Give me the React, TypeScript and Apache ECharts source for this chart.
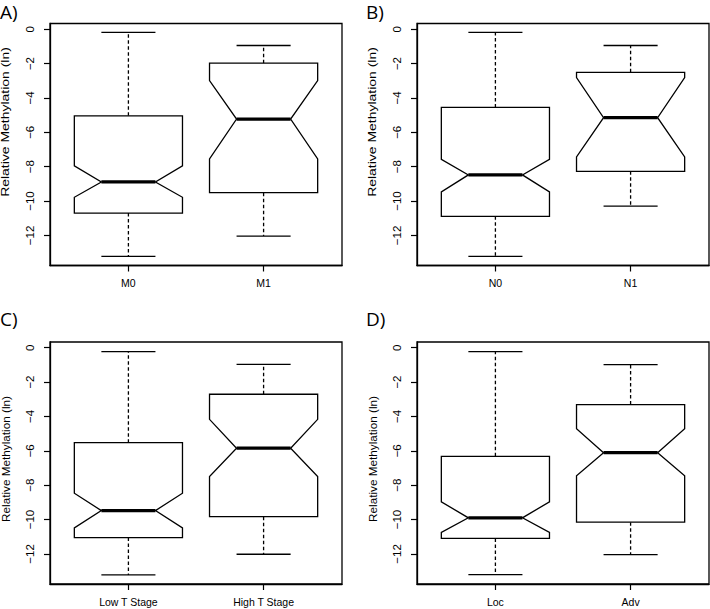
import React, { useEffect, useRef } from "react";
import * as echarts from "echarts";

// Panel letters
const panelLetters = ["A)", "B)", "C)", "D)"];

// Categories per panel
const catsA = ["M0", "M1"];
const catsB = ["N0", "N1"];
const catsC = ["Low T Stage", "High T Stage"];
const catsD = ["Loc", "Adv"];

// Box stats: [lower whisker, Q1, lower notch, median, upper notch, Q3, upper whisker]
const statsA_M0 = [-13.22, -10.7, -9.78, -8.89, -7.95, -5.04, -0.19];
const statsA_M1 = [-12.04, -9.51, -7.55, -5.23, -2.99, -1.98, -0.95];
const statsB_N0 = [-13.22, -10.89, -9.47, -8.48, -7.57, -4.55, -0.19];
const statsB_N1 = [-10.29, -8.27, -7.43, -5.15, -2.82, -2.51, -0.95];
const statsC_Low = [-13.22, -11.05, -10.49, -9.48, -8.47, -5.53, -0.23];
const statsC_High = [-12.02, -9.83, -7.5, -5.85, -4.17, -2.71, -0.97];
const statsD_Loc = [-13.2, -11.1, -10.75, -9.9, -8.97, -6.32, -0.23];
const statsD_Adv = [-12.04, -10.15, -7.45, -6.11, -4.71, -3.31, -0.99];

// Y-axis ticks
const yTicks = [0, -2, -4, -6, -8, -10, -12];
const yTitle = "Relative Methylation (ln)";

const panels = [
  { cats: catsA, stats: [statsA_M0, statsA_M1] },
  { cats: catsB, stats: [statsB_N0, statsB_N1] },
  { cats: catsC, stats: [statsC_Low, statsC_High] },
  { cats: catsD, stats: [statsD_Loc, statsD_Adv] },
];

const gridLefts = [50, 417, 50, 417];
const gridTops = [23.5, 23.5, 342, 342];
const GW = 292;
const GH = 242;

export default function App() {
  const ref = useRef<HTMLDivElement>(null);
  useEffect(() => {
    if (!ref.current) return;
    const chart = echarts.init(ref.current, null, { renderer: "svg" });
    const font = "'Liberation Sans', Arial, sans-serif";

    const grids = panels.map((_, i) => ({
      left: gridLefts[i],
      top: gridTops[i],
      width: GW,
      height: GH,
      show: true,
      borderColor: "#000",
      borderWidth: 1.3,
      backgroundColor: "transparent",
      containLabel: false,
      outerBoundsMode: "none",
    }));

    const xAxes = panels.map((p, i) => ({
      type: "value",
      gridIndex: i,
      position: "bottom",
      min: 0.42,
      max: 2.58,
      axisLine: { show: true, onZero: false, lineStyle: { color: "#000", width: 1.3 } },
      axisTick: {
        show: true,
        customValues: [1, 2],
        length: 6,
        lineStyle: { color: "#000", width: 1.2 },
      },
      axisLabel: {
        customValues: [1, 2],
        formatter: (v: number) => p.cats[Math.round(v) - 1] ?? "",
        color: "#000",
        fontFamily: font,
        fontSize: 10.5,
        margin: 12,
      },
      splitLine: { show: false },
    }));

    const yAxes = panels.map((_, i) => ({
      type: "value",
      gridIndex: i,
      position: "left",
      min: -13.75,
      max: 0.33,
      axisLine: { show: true, onZero: false, lineStyle: { color: "#000", width: 1.3 } },
      axisTick: {
        show: true,
        customValues: yTicks,
        length: 6,
        lineStyle: { color: "#000", width: 1.2 },
      },
      axisLabel: {
        customValues: yTicks,
        rotate: 90,
        formatter: (v: number) => String(v).replace("-", "\u2212"),
        color: "#000",
        fontFamily: font,
        fontSize: 11.5,
        margin: 14,
      },
      splitLine: { show: false },
    }));

    const series = panels.map((p, i) => ({
      type: "custom",
      xAxisIndex: i,
      yAxisIndex: i,
      clip: false,
      data: p.stats.map((s, k) => [k + 1, ...s]),
      renderItem: (params: any, api: any) => {
        const x = api.value(0);
        const lo = api.value(1);
        const q1 = api.value(2);
        const nlo = api.value(3);
        const med = api.value(4);
        const nhi = api.value(5);
        const q3 = api.value(6);
        const hi = api.value(7);
        const w = 0.4;
        const nf = 0.5;
        const sw = 0.2;
        const c = (dx: number, y: number) => api.coord([x + dx, y]);
        const lineStyle = { stroke: "#000", lineWidth: 1.3, fill: "none" };
        const dash = { stroke: "#000", lineWidth: 1.3, lineDash: [3.5, 2.5] };
        const mk = (a: number[], b: number[], style: any) => ({
          type: "line",
          shape: { x1: a[0], y1: a[1], x2: b[0], y2: b[1] },
          style,
        });
        return {
          type: "group",
          children: [
            mk(c(0, q3), c(0, hi), dash),
            mk(c(0, q1), c(0, lo), dash),
            mk(c(-sw, hi), c(sw, hi), lineStyle),
            mk(c(-sw, lo), c(sw, lo), lineStyle),
            {
              type: "polygon",
              shape: {
                points: [
                  c(-w, q1),
                  c(w, q1),
                  c(w, nlo),
                  c(w * nf, med),
                  c(w, nhi),
                  c(w, q3),
                  c(-w, q3),
                  c(-w, nhi),
                  c(-w * nf, med),
                  c(-w, nlo),
                ],
              },
              style: { fill: "#fff", stroke: "#000", lineWidth: 1.3 },
            },
            mk(c(-w * nf, med), c(w * nf, med), {
              stroke: "#000",
              lineWidth: 3.2,
            }),
          ],
        };
      },
    }));

    const letterPos = [
      [0, 13],
      [366, 13],
      [0, 320],
      [366, 320],
    ];
    const titleCenters = [
      [6, 122, 1.33],
      [373, 122, 1.33],
      [6, 459, 1.12],
      [373, 459, 1.12],
    ];

    const graphics: any[] = [];
    panelLetters.forEach((t, i) => {
      graphics.push({
        type: "text",
        left: letterPos[i][0],
        top: letterPos[i][1] - 11,
        style: {
          text: t,
          font: "500 19px 'Open Sans', 'Noto Sans', sans-serif",
          fill: "#000",
        },
      });
    });
    titleCenters.forEach(([cx, cy, s]) => {
      graphics.push({
        type: "text",
        x: cx,
        y: cy,
        rotation: Math.PI / 2,
        scaleX: s,
        scaleY: 1,
        style: {
          text: yTitle,
          font: `10.5px ${font}`,
          fill: "#000",
          align: "center",
          verticalAlign: "middle",
        },
      });
    });

    chart.setOption({
      animation: false,
      backgroundColor: "#fff",
      grid: grids,
      xAxis: xAxes,
      yAxis: yAxes,
      series,
      graphic: { elements: graphics },
    } as any);

    return () => chart.dispose();
  }, []);

  return (
    <div
      ref={ref}
      style={{ position: "fixed", left: 0, top: 0, width: 710, height: 609 }}
    />
  );
}
